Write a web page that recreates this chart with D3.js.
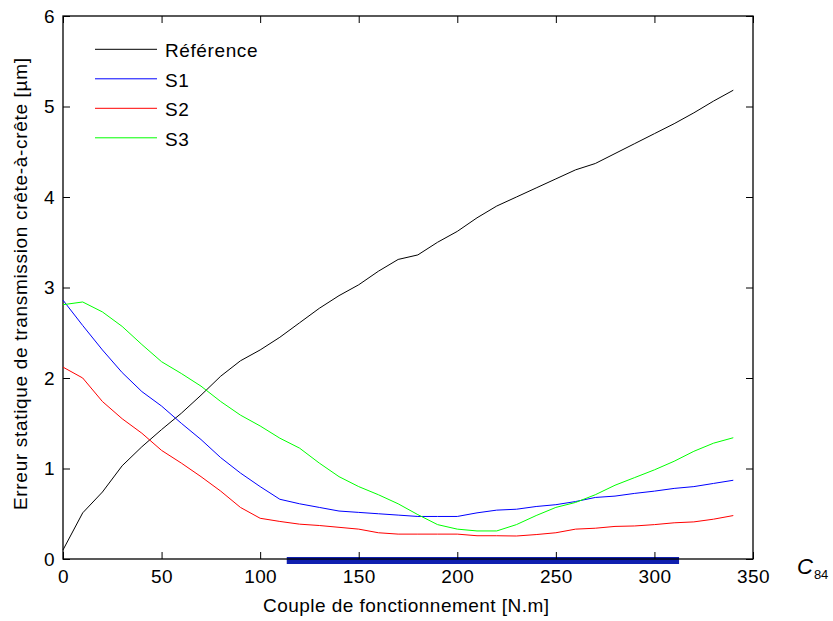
<!DOCTYPE html>
<html><head><meta charset="utf-8">
<script src="https://cdnjs.cloudflare.com/ajax/libs/d3/7.8.5/d3.min.js"></script>
<style>body{margin:0;background:#fff}svg{display:block}text{font-family:"Liberation Sans",Arial,sans-serif}</style>
</head><body><div id="chart"></div>
<script>
const torque = [0,10,20,30,40,50,60,70,80,90,100,110,120,130,140,150,160,170,180,190,200,210,220,230,240,250,260,270,280,290,300,310,320,330,340];
const reference = [0.10,0.51,0.74,1.03,1.24,1.43,1.61,1.81,2.02,2.19,2.31,2.45,2.61,2.77,2.91,3.03,3.18,3.31,3.36,3.50,3.62,3.77,3.90,4.00,4.10,4.20,4.30,4.37,4.48,4.59,4.70,4.81,4.93,5.06,5.18];
const s1 = [2.86,2.58,2.31,2.06,1.85,1.69,1.50,1.32,1.12,0.95,0.80,0.66,0.61,0.57,0.53,0.515,0.50,0.485,0.47,0.47,0.47,0.51,0.54,0.55,0.58,0.60,0.635,0.68,0.695,0.725,0.75,0.78,0.80,0.835,0.87];
const s2 = [2.12,2.00,1.74,1.55,1.39,1.20,1.06,0.91,0.75,0.57,0.45,0.415,0.385,0.37,0.35,0.33,0.29,0.275,0.275,0.275,0.275,0.257,0.257,0.254,0.27,0.29,0.33,0.34,0.36,0.365,0.38,0.40,0.41,0.44,0.48];
const s3 = [2.81,2.84,2.73,2.57,2.37,2.18,2.05,1.91,1.74,1.59,1.47,1.335,1.225,1.06,0.91,0.80,0.71,0.61,0.49,0.38,0.33,0.31,0.31,0.38,0.48,0.57,0.625,0.71,0.815,0.90,0.985,1.08,1.19,1.28,1.34];
const seriesNames = ["Référence","S1","S2","S3"];
const seriesColors = ["#000000","#0000ff","#ff0000","#00ff00"];
const xTicks = [0,50,100,150,200,250,300,350];
const yTicks = [0,1,2,3,4,5,6];
const rangeBar = [113.5, 312.5];
const xLabel = "Couple de fonctionnement [N.m]";
const yLabel = "Erreur statique de transmission crête-à-crête [µm]";

const W = 833, H = 621;
const L = 63, T = 16, R = 753, B = 559;
const FS = 19;
const svg = d3.select("#chart").append("svg").attr("width", W).attr("height", H);
const x = d3.scaleLinear().domain([0,350]).range([L,R]);
const y = d3.scaleLinear().domain([0,6]).range([B,T]);

svg.append("rect").attr("x", x(rangeBar[0])).attr("y", B-2).attr("width", x(rangeBar[1])-x(rangeBar[0])).attr("height", 7).attr("fill", "#1020b0");

const xb = svg.append("g").attr("transform", `translate(0,${B})`)
  .call(d3.axisBottom(x).tickValues(xTicks).tickSize(-7).tickPadding(11).tickFormat(d3.format("d")));
const xt = svg.append("g").attr("transform", `translate(0,${T})`)
  .call(d3.axisTop(x).tickValues(xTicks).tickSize(-7).tickFormat(""));
const yl = svg.append("g").attr("transform", `translate(${L},0)`)
  .call(d3.axisLeft(y).tickValues(yTicks).tickSize(-7).tickPadding(8).tickFormat(d3.format("d")));
const yr = svg.append("g").attr("transform", `translate(${R},0)`)
  .call(d3.axisRight(y).tickValues(yTicks).tickSize(-7).tickFormat(""));
[xb,xt,yl,yr].forEach(g => {
  g.select(".domain").remove();
  g.selectAll("line").attr("stroke","#000");
  g.attr("font-family", null);
  g.selectAll("text").attr("font-size", FS).attr("letter-spacing", 0.4).attr("fill", "#000");
});
svg.append("rect").attr("x", L).attr("y", T).attr("width", R-L).attr("height", B-T)
  .attr("fill","none").attr("stroke","#000").attr("stroke-width",1.3);

const all = [reference, s1, s2, s3];
const line = d3.line().x((d,i)=>x(torque[i])).y(d=>y(d));
all.forEach((vals,k)=>{
  svg.append("path").datum(vals).attr("d", line).attr("fill","none").attr("stroke", seriesColors[k]).attr("stroke-width",1);
});

seriesNames.forEach((n,k)=>{
  const ly = 49.3 + k*29.5;
  svg.append("line").attr("x1",95).attr("x2",157).attr("y1",ly).attr("y2",ly).attr("stroke",seriesColors[k]).attr("stroke-width",1);
  svg.append("text").attr("x",165).attr("y",ly+7.8).attr("font-size",FS).attr("letter-spacing",0.6).text(n);
});

svg.append("text").attr("x",406).attr("y",612).attr("text-anchor","middle").attr("font-size",FS)
  .attr("textLength",286).attr("lengthAdjust","spacing").text(xLabel);
svg.append("text").attr("transform",`translate(27,284) rotate(-90)`).attr("text-anchor","middle").attr("font-size",FS)
  .attr("textLength",452).attr("lengthAdjust","spacing").text(yLabel);

const c = svg.append("text").attr("x",797).attr("y",574).attr("font-family","'Liberation Serif','Times New Roman',serif");
c.append("tspan").attr("font-style","italic").attr("font-size",22).text("C");
c.append("tspan").attr("font-size",13).attr("dx",1).attr("dy",5).text("84");
</script></body></html>
